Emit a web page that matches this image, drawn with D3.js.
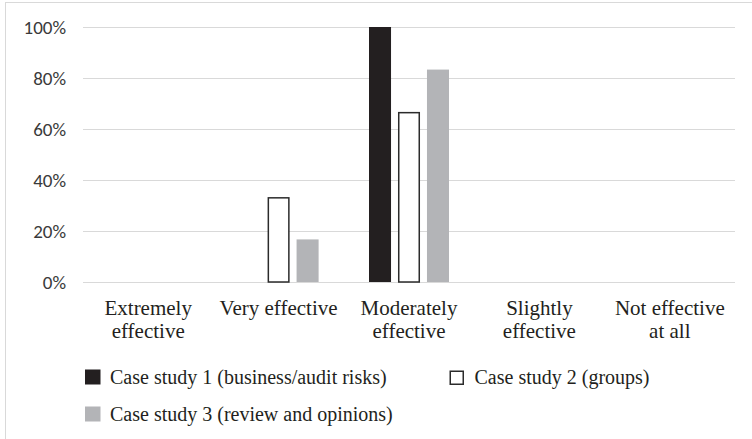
<!DOCTYPE html>
<html>
<head>
<meta charset="utf-8">
<script src="https://cdn.jsdelivr.net/npm/d3@7"></script>
<style>
  html, body { margin: 0; padding: 0; background: #fff; }
  svg { display: block; }
</style>
</head>
<body>
<svg id="chart" width="752" height="439"></svg>
<script>
// Effectiveness ratings per case study (share of respondents)
const categories = ["Extremely\neffective", "Very effective", "Moderately\neffective", "Slightly\neffective", "Not effective\nat all"];
const seriesNames = ["Case study 1 (business/audit risks)", "Case study 2 (groups)", "Case study 3 (review and opinions)"];
const caseStudy1 = [0, 0, 1.0, 0, 0];
const caseStudy2 = [0, 0.333, 0.667, 0, 0];
const caseStudy3 = [0, 0.167, 0.833, 0, 0];
const yTicks = [0, 0.2, 0.4, 0.6, 0.8, 1.0];

const seriesValues = [caseStudy1, caseStudy2, caseStudy3];
const fills = ["#231f20", "#ffffff", "#b3b4b7"];
const strokes = [null, "#2b2b2b", null];

const SERIF = '"Liberation Serif", serif';
const SANS = '"Carlito", Lato, sans-serif';

const svg = d3.select("#chart");

// outer frame (right and bottom edges fall outside the canvas)
svg.append("rect")
  .attr("x", 5.5).attr("y", 2.5)
  .attr("width", 900).attr("height", 600)
  .attr("fill", "none")
  .attr("stroke", "#d9d9d9")
  .attr("stroke-width", 1);

const plot = { left: 83, right: 735, top: 27, bottom: 282 };

const x0 = d3.scaleBand()
  .domain(categories)
  .range([plot.left, plot.right])
  .padding(0);

const groupWidth = 80;
const x1 = d3.scaleBand()
  .domain(d3.range(seriesNames.length))
  .range([0, groupWidth])
  .paddingInner(0.24)
  .paddingOuter(0);

const y = d3.scaleLinear()
  .domain([0, 1])
  .range([plot.bottom, plot.top]);

// y axis with gridlines
const yAxis = svg.append("g")
  .attr("transform", `translate(${plot.left},0)`)
  .call(d3.axisLeft(y)
    .tickValues(yTicks)
    .tickFormat(d3.format(".0%"))
    .tickSize(-(plot.right - plot.left))
    .tickPadding(17));
yAxis.select(".domain").remove();
yAxis.selectAll(".tick line")
  .attr("stroke", "#d9d9d9")
  .attr("stroke-width", 1.2);
yAxis.selectAll(".tick text")
  .style("font-family", SANS)
  .style("font-size", "19px")
  .attr("fill", "#3a3a3a")
  .attr("dy", "0.33em");

// bars
const rows = [];
categories.forEach((c, i) => {
  seriesValues.forEach((vals, s) => {
    rows.push({ cat: c, s: s, v: vals[i] });
  });
});

const groupOffset = (x0.bandwidth() - groupWidth) / 2;

svg.append("g")
  .selectAll("rect")
  .data(rows.filter(d => d.v > 0))
  .join("rect")
  .attr("x", d => x0(d.cat) + groupOffset + x1(d.s) + (strokes[d.s] ? 0.75 : 0))
  .attr("y", d => y(d.v) + (strokes[d.s] ? 0.75 : 0))
  .attr("width", d => x1.bandwidth() - (strokes[d.s] ? 1.5 : 0))
  .attr("height", d => y(0) - y(d.v) - (strokes[d.s] ? 0.75 : 0))
  .attr("fill", d => fills[d.s])
  .attr("stroke", d => strokes[d.s] || "none")
  .attr("stroke-width", 1.5);

// x axis labels (multi-line)
const xAxis = svg.append("g")
  .attr("transform", `translate(0,${plot.bottom})`)
  .call(d3.axisBottom(x0).tickSize(0).tickSizeOuter(0));
xAxis.select(".domain").remove();
xAxis.selectAll(".tick text")
  .style("font-family", SERIF)
  .style("font-size", "21px")
  .attr("fill", "#231f20")
  .attr("y", 33)
  .attr("dy", 0)
  .each(function (d) {
    const t = d3.select(this);
    const lines = d.split("\n");
    t.text(null);
    lines.forEach((ln, k) => {
      t.append("tspan")
        .attr("x", 0)
        .attr("dy", k === 0 ? 0 : 23.4)
        .text(ln);
    });
  });

// legend
const legendItems = [
  { s: 0, x: 85, y: 369.5 },
  { s: 1, x: 449.5, y: 370.5 },
  { s: 2, x: 85, y: 406.5 }
];
const legend = svg.append("g");
legendItems.forEach(item => {
  const g = legend.append("g").attr("transform", `translate(${item.x},${item.y})`);
  const stroked = !!strokes[item.s];
  g.append("rect")
    .attr("x", stroked ? 0.75 : 0)
    .attr("y", stroked ? 0.75 : 0)
    .attr("width", stroked ? 13 : 15.5)
    .attr("height", stroked ? 13 : 15)
    .attr("fill", fills[item.s])
    .attr("stroke", strokes[item.s] || "none")
    .attr("stroke-width", 1.5);
  g.append("text")
    .attr("x", 25)
    .attr("y", stroked ? 13.5 : 14.5)
    .style("font-family", SERIF)
    .style("font-size", "20px")
    .attr("fill", "#231f20")
    .text(seriesNames[item.s]);
});
</script>
</body>
</html>
